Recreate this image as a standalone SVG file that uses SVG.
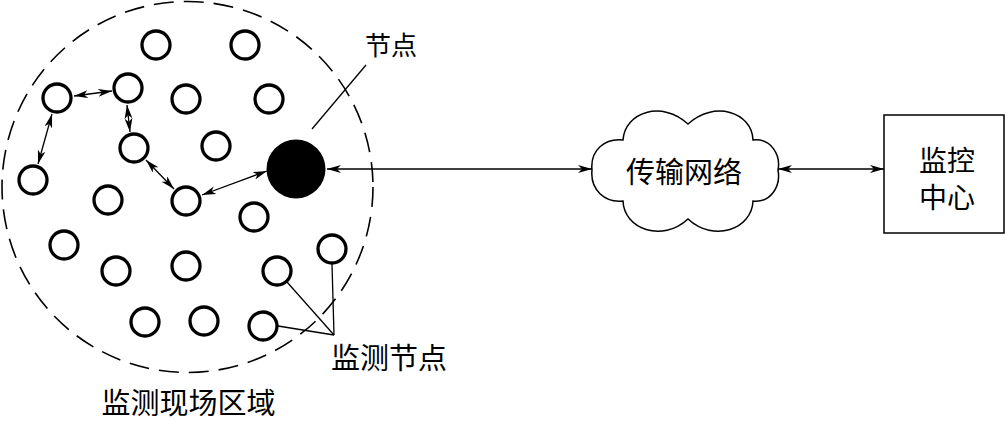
<svg xmlns="http://www.w3.org/2000/svg" width="1006" height="421" viewBox="0 0 1006 421">
<style>
.node{fill:#fff;stroke:#000;stroke-width:3.3}
.lbl{font-family:"Noto Sans CJK SC","Noto Sans",sans-serif;fill:#000;text-anchor:middle}
.ln{stroke:#000;stroke-width:1.3;fill:none}
.arr{stroke:#000;stroke-width:1.3;fill:none;marker-start:url(#ah);marker-end:url(#ah)}
</style>
<defs>
<marker id="ah" viewBox="0 0 14 8" refX="14" refY="4" markerWidth="14" markerHeight="8" markerUnits="userSpaceOnUse" orient="auto-start-reverse">
<path d="M0,0 L14,4 L0,8 L4,4 Z" fill="#000"/>
</marker>
</defs>
<rect width="1006" height="421" fill="#fff"/>
<g id="field">
<circle cx="187.5" cy="187" r="185.5" fill="none" stroke="#000" stroke-width="1.6" stroke-dasharray="20,10"/>
<text class="lbl" x="188.5" y="414" font-size="29">监测现场区域</text>
</g>
<g id="sensors">
<circle class="node" cx="156" cy="45" r="14"/>
<circle class="node" cx="245" cy="45" r="14"/>
<circle class="node" cx="57" cy="98" r="14"/>
<circle class="node" cx="128" cy="88" r="14"/>
<circle class="node" cx="186" cy="99" r="14"/>
<circle class="node" cx="269" cy="99" r="14"/>
<circle class="node" cx="134" cy="148" r="14"/>
<circle class="node" cx="216" cy="146" r="14"/>
<circle class="node" cx="33" cy="180" r="14"/>
<circle class="node" cx="108" cy="200" r="14"/>
<circle class="node" cx="186" cy="201" r="14"/>
<circle class="node" cx="254" cy="217" r="14"/>
<circle class="node" cx="64" cy="245" r="14"/>
<circle class="node" cx="332" cy="249" r="14"/>
<circle class="node" cx="116" cy="271" r="14"/>
<circle class="node" cx="186" cy="266" r="14"/>
<circle class="node" cx="277" cy="271" r="14"/>
<circle class="node" cx="145" cy="322" r="14"/>
<circle class="node" cx="204" cy="321" r="14"/>
<circle class="node" cx="263" cy="326" r="14"/>
</g>
<g id="sink">
<circle cx="296" cy="169" r="29.5" fill="#000"/>
</g>
<g id="sink-label">
<text class="lbl" x="391" y="55" font-size="26">节点</text>
</g>
<g id="sensor-label">
<text class="lbl" x="389" y="369" font-size="29">监测节点</text>
</g>
<g id="network">
<path d="M592,170 C590,150 605,138 623,140 C625,112 662,100 688,124 C714,100 752,112 753,140 C771,138 781,155 778,170 C781,186 771,203 753,201 C752,229 714,243 688,219 C662,243 624,229 623,201 C605,203 590,190 592,170 Z" fill="#fff" stroke="#000" stroke-width="1.5"/>
<text class="lbl" x="684" y="183" font-size="29">传输网络</text>
</g>
<g id="center">
<rect x="884" y="115" width="120" height="118" fill="#fff" stroke="#000" stroke-width="1.5"/>
<text class="lbl" x="947" y="171" font-size="28">监控</text>
<text class="lbl" x="947" y="208" font-size="28">中心</text>
</g>
<g id="connectors">
<line class="arr" x1="74" y1="96" x2="112" y2="91"/>
<line class="arr" x1="127" y1="105" x2="130" y2="132"/>
<line class="arr" x1="52" y1="114" x2="38" y2="164"/>
<line class="arr" x1="146" y1="160" x2="174" y2="189"/>
<line class="arr" x1="202" y1="195" x2="267" y2="171"/>
<line class="arr" x1="327" y1="169" x2="592" y2="169"/>
<line class="arr" x1="778" y1="169" x2="884" y2="169"/>
<line class="ln" x1="312" y1="129" x2="366" y2="65"/>
<line class="ln" x1="287" y1="282" x2="334" y2="335"/>
<line class="ln" x1="332" y1="264" x2="334" y2="335"/>
<line class="ln" x1="278" y1="326" x2="334" y2="335"/>
</g>
</svg>
